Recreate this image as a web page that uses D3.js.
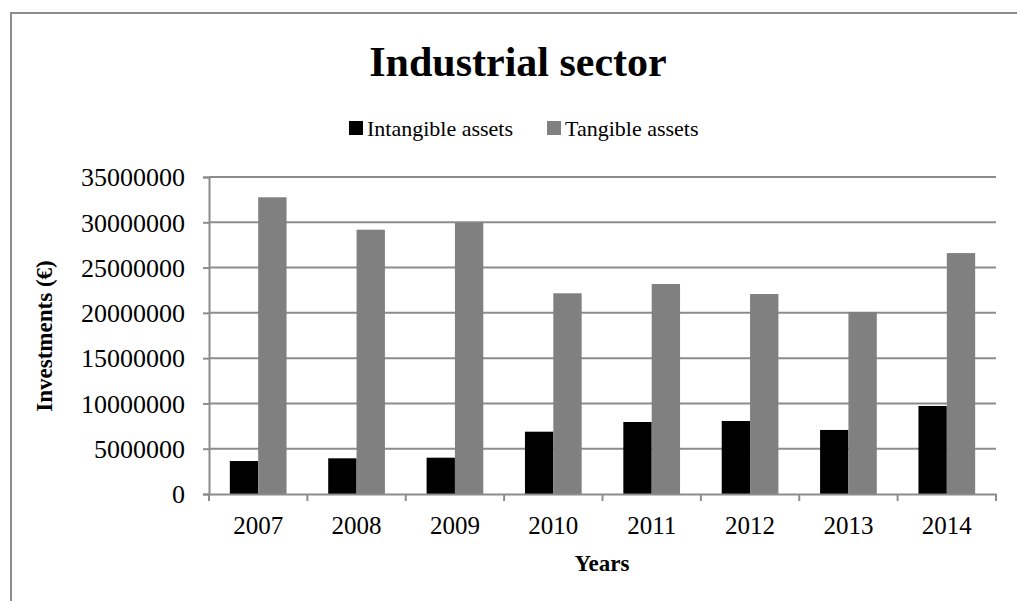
<!DOCTYPE html>
<meta charset="utf-8">
<script src="https://d3js.org/d3.v7.min.js"></script>
<style>
  body { margin: 0; background: #fff; }
  text { font-family: "Liberation Serif", "Times New Roman", serif; }
</style>
<div id="chart"></div>
<script>

// data
var years = ["2007", "2008", "2009", "2010", "2011", "2012", "2013", "2014"];
var intangible = [3640000, 3940000, 4010000, 6880000, 7950000, 8060000, 7070000, 9720000];
var tangible = [32760000, 29180000, 29960000, 22160000, 23190000, 22080000, 20100000, 26600000];
var seriesNames = ["Intangible assets", "Tangible assets"];
var yTicks = [0, 5000000, 10000000, 15000000, 20000000, 25000000, 30000000, 35000000];

var colors = {"Intangible assets": "#000000", "Tangible assets": "#808080"};
var gridColor = "#8c8c8c";

var width = 1017, height = 601;
var plot = {left: 209, right: 996, top: 177, bottom: 494};

var svg = d3.select("#chart").append("svg")
    .attr("width", width)
    .attr("height", height);

svg.append("rect").attr("width", width).attr("height", height).attr("fill", "#fff");

// outer frame (only top and left edges visible)
svg.append("rect")
    .attr("x", 11).attr("y", 13)
    .attr("width", 1200).attr("height", 800)
    .attr("fill", "none")
    .attr("stroke", gridColor)
    .attr("stroke-width", 2);

var x = d3.scaleBand()
    .domain(years)
    .range([plot.left, plot.right])
    .padding(0);

var xSub = d3.scaleBand()
    .domain(seriesNames)
    .range([0, x.bandwidth()])
    .paddingInner(0)
    .paddingOuter(0.735);

var y = d3.scaleLinear()
    .domain([0, 35000000])
    .range([plot.bottom, plot.top]);

// gridlines
svg.append("g")
  .selectAll("line")
  .data(yTicks.slice(1))
  .enter().append("line")
    .attr("x1", plot.left)
    .attr("x2", plot.right)
    .attr("y1", function(d) { return y(d); })
    .attr("y2", function(d) { return y(d); })
    .attr("stroke", gridColor)
    .attr("stroke-width", 2);

// y axis
var yAxis = svg.append("g")
    .attr("transform", "translate(" + plot.left + ",0)")
    .call(d3.axisLeft(y).tickValues(yTicks).tickFormat(d3.format("d")).tickSize(6).tickPadding(18));
yAxis.selectAll("path, line").attr("stroke", gridColor).attr("stroke-width", 2);
yAxis.selectAll("text")
    .attr("fill", "#000")
    .style("font-size", "26px")
    .attr("dy", "0.34em");

// bars
var data = years.map(function(yr, i) {
  return {year: yr, values: [
    {key: "Intangible assets", value: intangible[i]},
    {key: "Tangible assets", value: tangible[i]}
  ]};
});

svg.append("g")
  .selectAll("g")
  .data(data)
  .enter().append("g")
    .attr("transform", function(d) { return "translate(" + x(d.year) + ",0)"; })
  .selectAll("rect")
  .data(function(d) { return d.values; })
  .enter().append("rect")
    .attr("x", function(d) { return xSub(d.key); })
    .attr("y", function(d) { return y(d.value); })
    .attr("width", xSub.bandwidth())
    .attr("height", function(d) { return y(0) - y(d.value); })
    .attr("fill", function(d) { return colors[d.key]; });

// x axis
var xAxis = svg.append("g")
    .attr("transform", "translate(0," + plot.bottom + ")")
    .call(d3.axisBottom(x).tickSize(0).tickPadding(22));
xAxis.select(".domain").attr("stroke", gridColor).attr("stroke-width", 2);
xAxis.selectAll("text")
    .attr("fill", "#000")
    .style("font-size", "25px");

// category separators on x axis
svg.append("g")
  .selectAll("line")
  .data(years.concat(["end"]))
  .enter().append("line")
    .attr("x1", function(d, i) { return i < years.length ? x(d) : plot.right; })
    .attr("x2", function(d, i) { return i < years.length ? x(d) : plot.right; })
    .attr("y1", plot.bottom)
    .attr("y2", plot.bottom + 7)
    .attr("stroke", gridColor)
    .attr("stroke-width", 2);

// title
svg.append("text")
    .attr("x", 518)
    .attr("y", 76)
    .attr("text-anchor", "middle")
    .style("font-size", "42px")
    .style("font-weight", "bold")
    .text("Industrial sector");

// legend
var legendX = [349, 547];
var legend = svg.append("g")
  .selectAll("g")
  .data(seriesNames)
  .enter().append("g")
    .attr("transform", function(d, i) { return "translate(" + legendX[i] + ",121)"; });
legend.append("rect")
    .attr("width", 14)
    .attr("height", 14)
    .attr("fill", function(d) { return colors[d]; });
legend.append("text")
    .attr("x", 18)
    .attr("y", 15)
    .style("font-size", "22px")
    .text(function(d) { return d; });

// axis titles
svg.append("text")
    .attr("transform", "translate(52,336) rotate(-90)")
    .attr("text-anchor", "middle")
    .style("font-size", "23px")
    .style("font-weight", "bold")
    .text("Investments (€)");

svg.append("text")
    .attr("x", 602)
    .attr("y", 571)
    .attr("text-anchor", "middle")
    .style("font-size", "23px")
    .style("font-weight", "bold")
    .text("Years");

</script>
